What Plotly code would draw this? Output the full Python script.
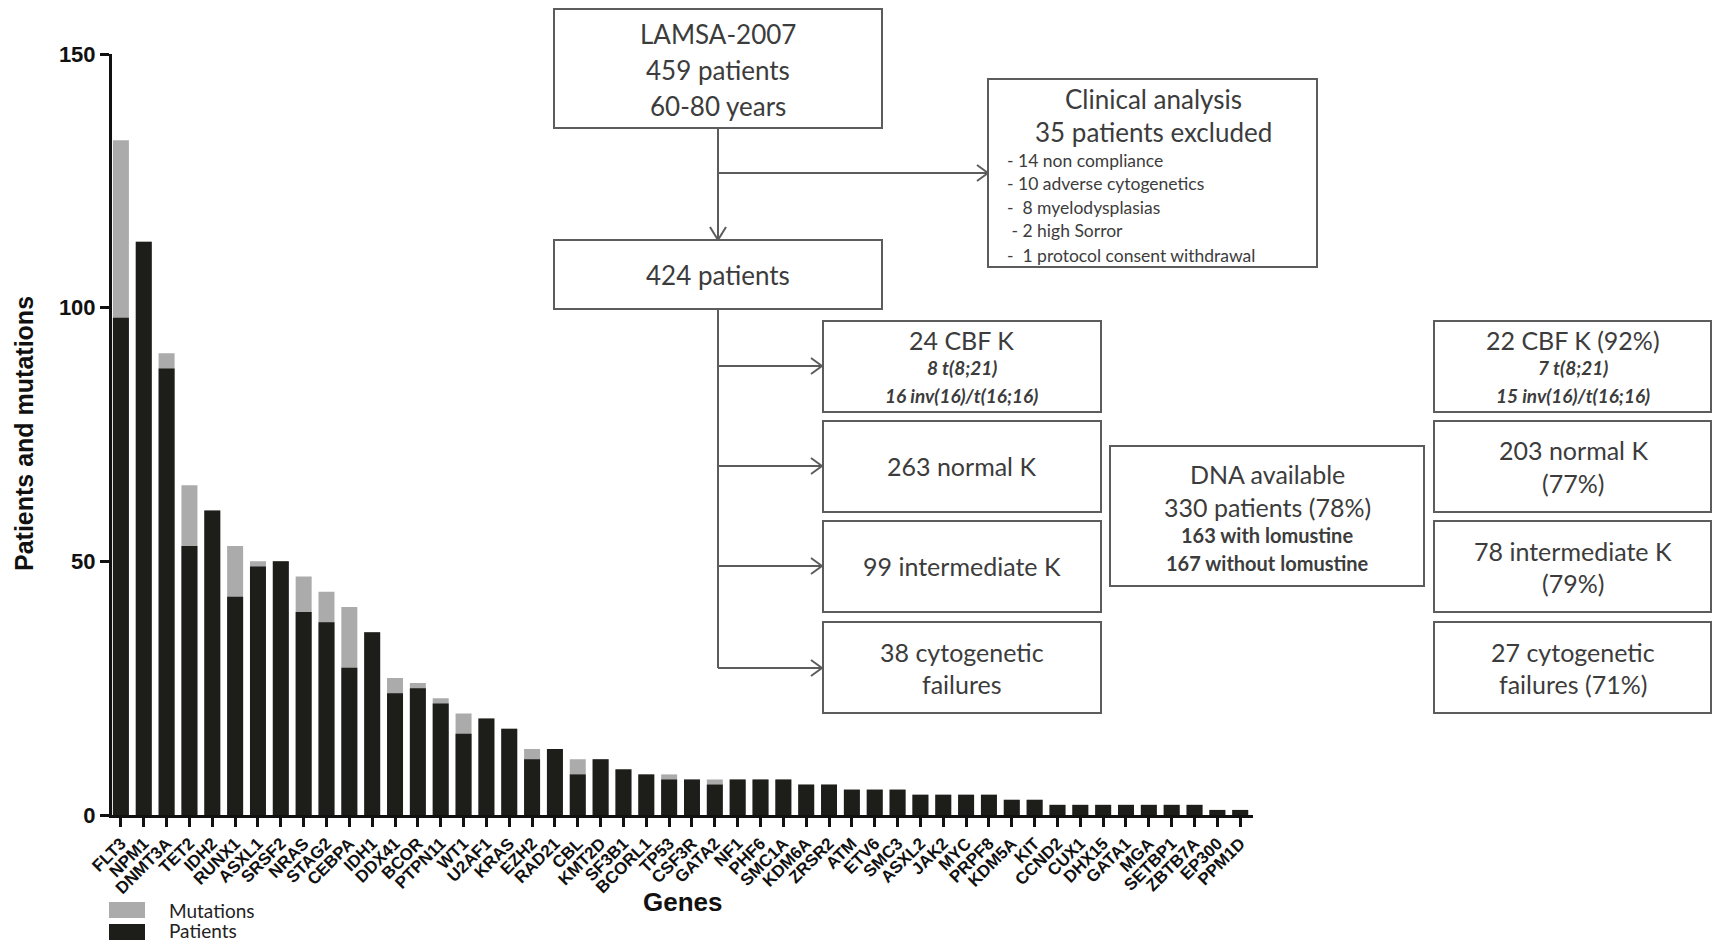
import plotly.graph_objects as go

genes = ["FLT3", "NPM1", "DNMT3A", "TET2", "IDH2", "RUNX1", "ASXL1", "SRSF2", "NRAS", "STAG2",
         "CEBPA", "IDH1", "DDX41", "BCOR", "PTPN11", "WT1", "U2AF1", "KRAS", "EZH2", "RAD21",
         "CBL", "KMT2D", "SF3B1", "BCORL1", "TP53", "CSF3R", "GATA2", "NF1", "PHF6", "SMC1A",
         "KDM6A", "ZRSR2", "ATM", "ETV6", "SMC3", "ASXL2", "JAK2", "MYC", "PRPF8", "KDM5A",
         "KIT", "CCND2", "CUX1", "DHX15", "GATA1", "MGA", "SETBP1", "ZBTB7A", "EP300", "PPM1D"]
patients = [98, 113, 88, 53, 60, 43, 49, 50, 40, 38,
            29, 36, 24, 25, 22, 16, 19, 17, 11, 13,
            8, 11, 9, 8, 7, 7, 6, 7, 7, 7,
            6, 6, 5, 5, 5, 4, 4, 4, 4, 3,
            3, 2, 2, 2, 2, 2, 2, 2, 1, 1]
mutations = [133, 113, 91, 65, 60, 53, 50, 50, 47, 44,
             41, 36, 27, 26, 23, 20, 19, 17, 13, 13,
             11, 11, 9, 8, 8, 7, 7, 7, 7, 7,
             6, 6, 5, 5, 5, 4, 4, 4, 4, 3,
             3, 2, 2, 2, 2, 2, 2, 2, 1, 1]
y_ticks = [0, 50, 100, 150]

# ---- layout geometry (pixels) ----
FW, FH = 1713, 944
L, R, T, B = 112, 1253, 54, 815
W, H = R - L, B - T

def px(x):
    return (x - L) / W

def py(y):
    return (B - y) / H

fig = go.Figure()
fig.add_trace(go.Bar(x=genes, y=mutations, name="Mutations",
                     marker=dict(color="#ababab", line=dict(width=0)), showlegend=False))
fig.add_trace(go.Bar(x=genes, y=patients, name="Patients",
                     marker=dict(color="#1d1d19", line=dict(width=0)), showlegend=False))

shapes = []
annotations = []

BOX_COL = "#5c5c5c"
TXT_COL = "#3c3c3c"
FF = "Lato, Carlito, Calibri, sans-serif"

def box(x0, y0, x1, y1):
    shapes.append(dict(type="rect", xref="paper", yref="paper",
                       x0=px(x0), x1=px(x1), y0=py(y1), y1=py(y0),
                       line=dict(color=BOX_COL, width=2), fillcolor="rgba(0,0,0,0)", layer="above"))

def line(x0, y0, x1, y1):
    shapes.append(dict(type="line", xref="paper", yref="paper",
                       x0=px(x0), x1=px(x1), y0=py(y0), y1=py(y1),
                       line=dict(color=BOX_COL, width=2), layer="above"))

def chevron_right(x, y):
    line(x - 11, y - 8, x, y)
    line(x - 11, y + 8, x, y)

def chevron_down(x, y):
    line(x - 8, y - 13, x, y)
    line(x + 8, y - 13, x, y)

def text(x, y, s, size, bold=False, italic=False, anchor="center"):
    if bold:
        s = "<b>" + s + "</b>"
    if italic:
        s = "<i>" + s + "</i>"
    annotations.append(dict(xref="paper", yref="paper", x=px(x), y=py(y), text=s,
                            showarrow=False, xanchor=anchor, yanchor="middle",
                            font=dict(family=FF, size=size, color=TXT_COL)))

# boxes
box(554, 9, 882, 128)
box(988, 79, 1317, 267)
box(554, 240, 882, 309)
rows = [(321, 412), (421, 512), (521, 612), (622, 713)]
for y0, y1 in rows:
    box(823, y0, 1101, y1)
    box(1434, y0, 1711, y1)
box(1110, 446, 1424, 586)

# connectors
line(718, 128, 718, 240)
chevron_down(718, 240)
line(718, 173, 988, 173)
chevron_right(988, 173)
line(718, 309, 718, 668)
for ya in [366, 466, 566, 668]:
    line(718, ya, 822, ya)
    chevron_right(822, ya)

# texts
MAIN = 25
text(718, 34, "LAMSA-2007", 26)
text(718, 70, "459 patients", 26)
text(718, 106, "60-80 years", 26)
text(1153, 99, "Clinical analysis", 26)
text(1153, 132, "35 patients excluded", 26)
for yy, s in zip([160, 184, 207, 231, 255],
                 ["- 14 non compliance", "- 10 adverse cytogenetics", "-  8 myelodysplasias",
                  " - 2 high Sorror", "-  1 protocol consent withdrawal"]):
    text(1005, yy, s, 17.5, anchor="left")
text(718, 275, "424 patients", 26)

c2 = 962
text(c2, 340, "24 CBF K", MAIN)
text(c2, 367, "8 t(8;21)", 19, bold=True, italic=True)
text(c2, 395, "16 inv(16)/t(16;16)", 19, bold=True, italic=True)
text(c2, 466, "263 normal K", MAIN)
text(c2, 566, "99 intermediate K", MAIN)
text(c2, 652, "38 cytogenetic", MAIN)
text(c2, 684, "failures", MAIN)

c3 = 1267
text(c3, 474, "DNA available", MAIN)
text(c3, 507, "330 patients (78%)", MAIN)
text(c3, 535, "163 with lomustine", 20, bold=True)
text(c3, 563, "167 without lomustine", 20, bold=True)

c4 = 1573
text(c4, 340, "22 CBF K (92%)", MAIN)
text(c4, 367, "7 t(8;21)", 19, bold=True, italic=True)
text(c4, 395, "15 inv(16)/t(16;16)", 19, bold=True, italic=True)
text(c4, 450, "203 normal K", MAIN)
text(c4, 483, "(77%)", MAIN)
text(c4, 551, "78 intermediate K", MAIN)
text(c4, 583, "(79%)", MAIN)
text(c4, 652, "27 cytogenetic", MAIN)
text(c4, 684, "failures (71%)", MAIN)

# manual legend
shapes.append(dict(type="rect", xref="paper", yref="paper", x0=px(109), x1=px(145),
                   y0=py(918), y1=py(902), line=dict(width=0), fillcolor="#ababab"))
shapes.append(dict(type="rect", xref="paper", yref="paper", x0=px(109), x1=px(145),
                   y0=py(940), y1=py(924), line=dict(width=0), fillcolor="#1d1d19"))
annotations.append(dict(xref="paper", yref="paper", x=px(167), y=py(910), text="Mutations",
                        showarrow=False, xanchor="left", yanchor="middle",
                        font=dict(family=FF, size=19, color="#222")))
annotations.append(dict(xref="paper", yref="paper", x=px(167), y=py(930), text="Patients",
                        showarrow=False, xanchor="left", yanchor="middle",
                        font=dict(family=FF, size=19, color="#222")))

# axis titles
AF = "Liberation Sans Narrow, Arial Narrow, Arial, sans-serif"
annotations.append(dict(xref="paper", yref="paper", x=px(24), y=py(434),
                        text="Patients and mutations", textangle=-90, showarrow=False,
                        xanchor="center", yanchor="middle",
                        font=dict(family=AF, size=25, color="#111", weight="bold")))
annotations.append(dict(xref="paper", yref="paper", x=px(683), y=py(902),
                        text="Genes", showarrow=False,
                        xanchor="center", yanchor="middle",
                        font=dict(family=AF, size=26, color="#111", weight="bold")))

fig.update_layout(
    width=FW, height=FH,
    margin=dict(l=L, r=FW - R, t=T, b=FH - B, autoexpand=False),
    paper_bgcolor="white", plot_bgcolor="white",
    barmode="overlay", bargap=0.3,
    shapes=shapes, annotations=annotations,
    xaxis=dict(type="category", range=[-0.39, 49.56], showgrid=False, zeroline=False,
               showline=True, linecolor="#111", linewidth=3,
               ticks="outside", ticklen=9, tickwidth=3, tickcolor="#111",
               tickangle=-45, tickfont=dict(family=AF, size=17, color="#111", weight="bold")),
    yaxis=dict(range=[0, 150], tickvals=y_ticks, showgrid=False, zeroline=False,
               showline=True, linecolor="#111", linewidth=3,
               ticks="outside", ticklen=9, tickwidth=3, tickcolor="#111",
               tickfont=dict(family=AF, size=22, color="#111", weight="bold")),
)

fig.write_html("out.html")
